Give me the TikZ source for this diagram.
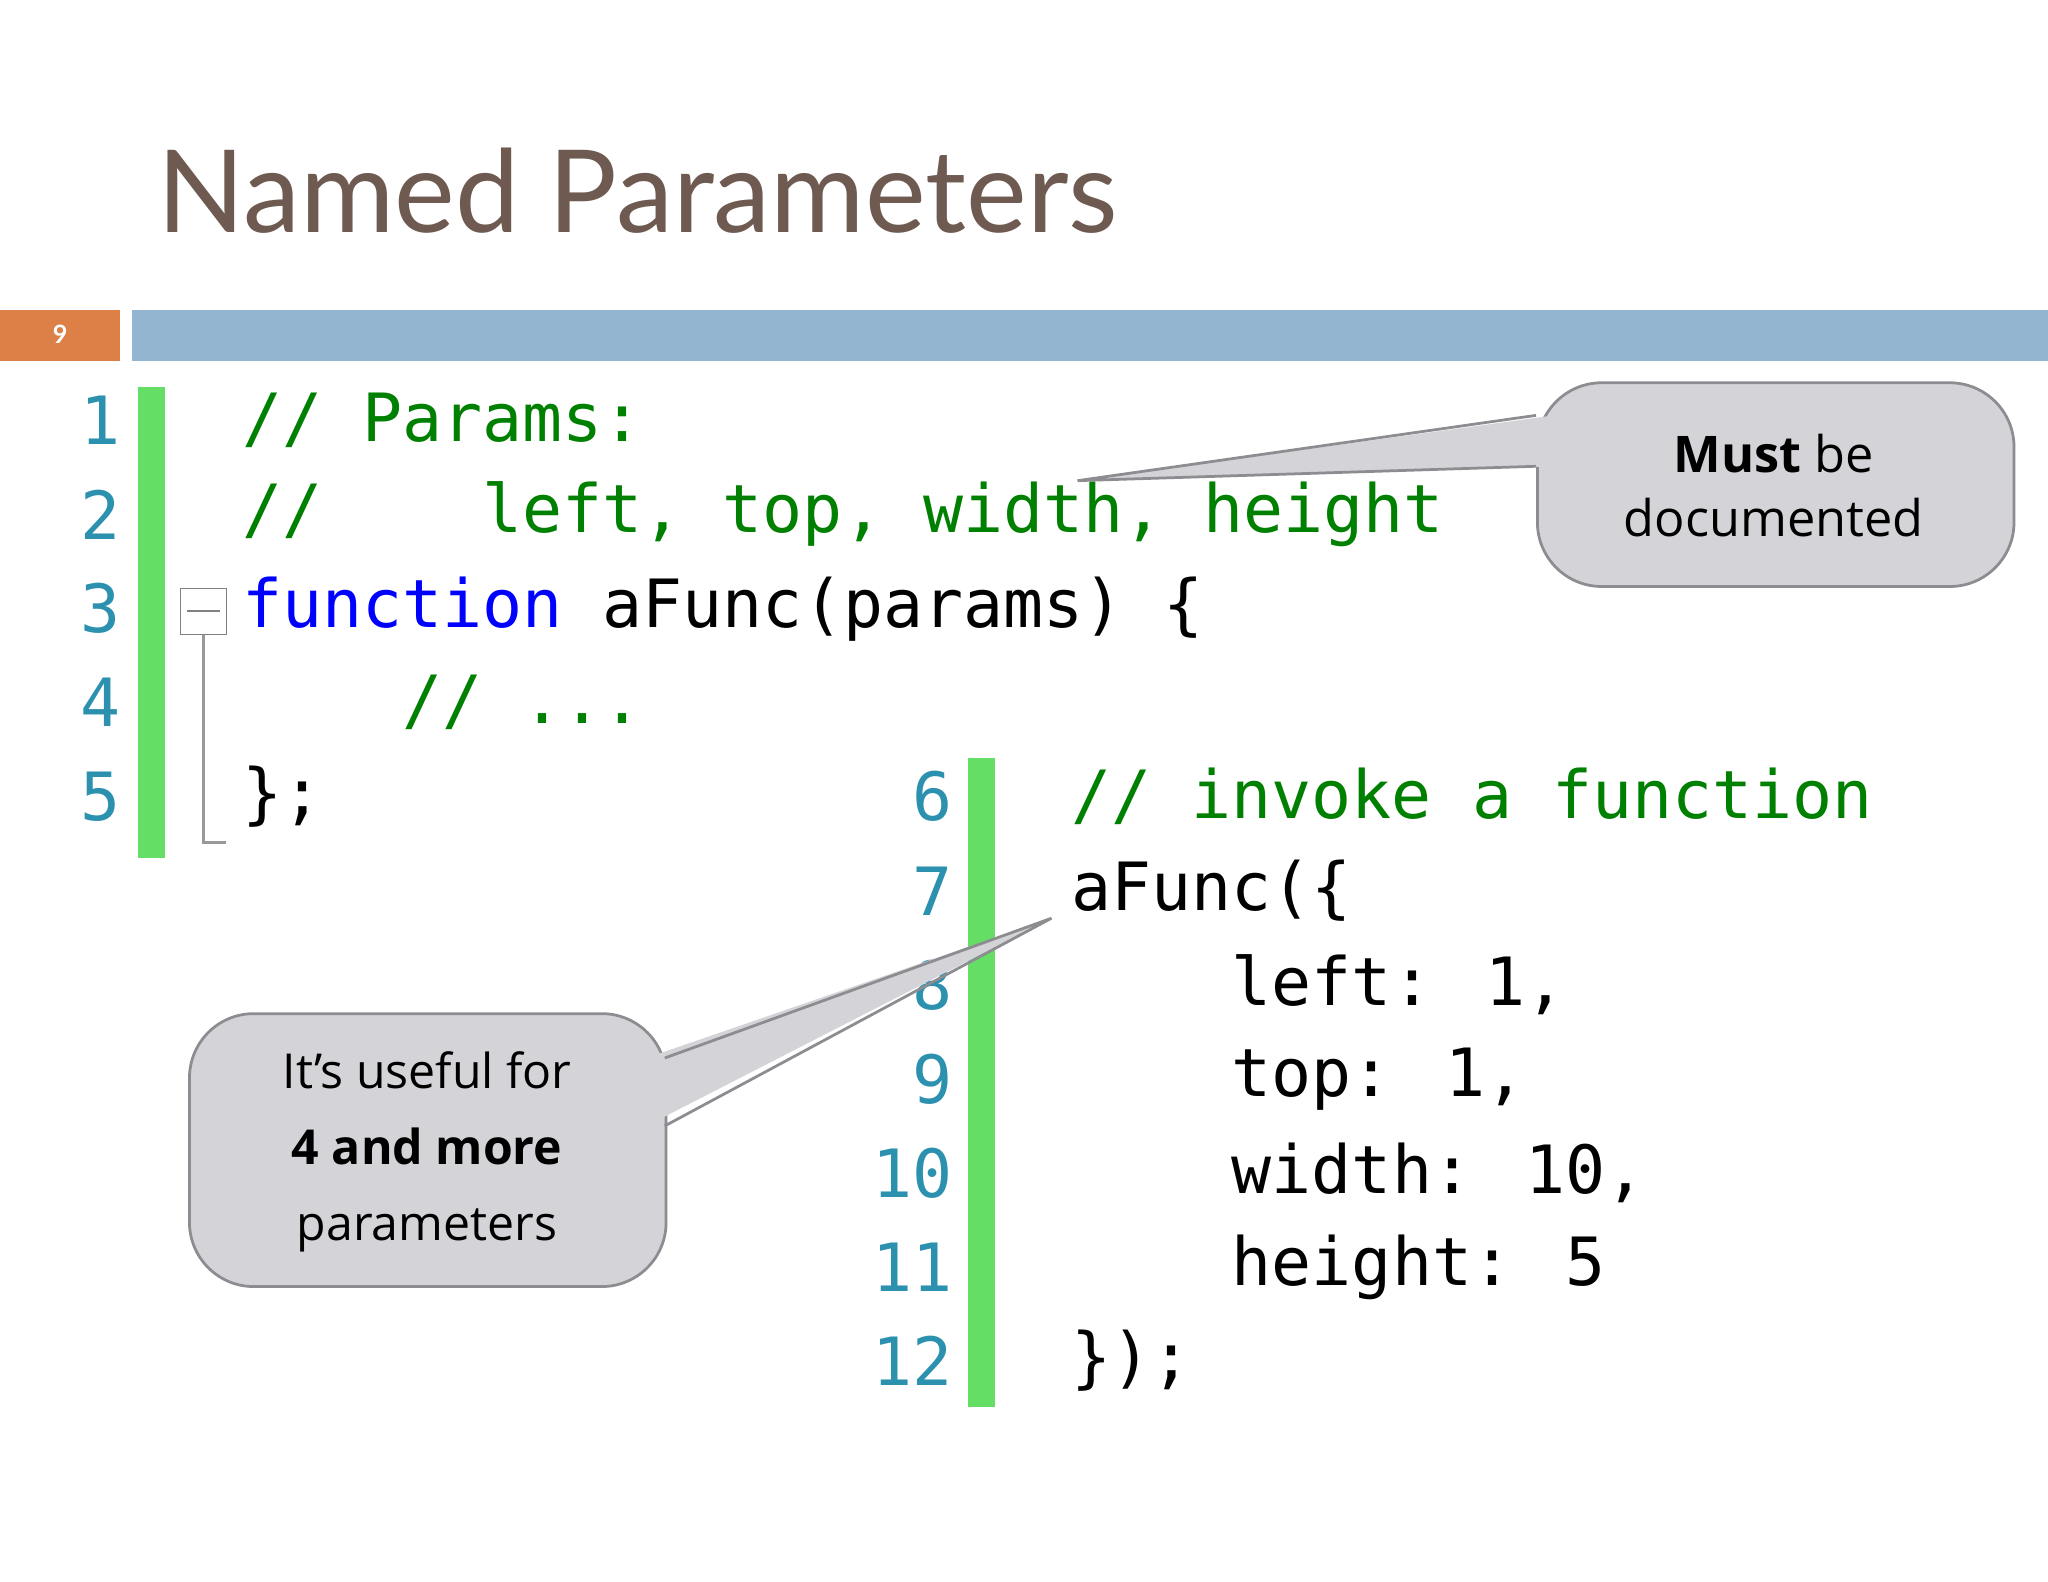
\documentclass[tikz,border=0pt]{standalone}
\usepackage{fontspec}
\setmainfont{Lato}
\newfontfamily\codefont{DejaVu Sans Mono}
\newfontfamily\calfont{Open Sans}
\definecolor{titlec}{RGB}{110,90,80}
\definecolor{barblue}{RGB}{148,181,208}
\definecolor{barorange}{RGB}{221,128,71}
\definecolor{gbar}{RGB}{100,222,100}
\definecolor{lnum}{RGB}{43,145,175}
\definecolor{cgreen}{RGB}{0,128,0}
\definecolor{kblue}{RGB}{0,0,255}
\definecolor{calfill}{RGB}{212,212,216}
\definecolor{caledge}{RGB}{140,140,145}
\tikzset{
 ln/.style={anchor=east,text=lnum,font=\codefont\fontsize{29}{30}\selectfont,inner sep=0},
 code/.style={anchor=west,font=\codefont\fontsize{29}{30}\selectfont,inner sep=0},
 callout/.style={draw=caledge,line width=1.2pt,fill=calfill,rounded corners=28pt,anchor=north west,inner sep=0},
 caltext/.style={font=\calfont\fontsize{22}{24}\selectfont,align=center,inner sep=0}
}
\begin{document}
\begin{tikzpicture}[x=0.02cm,y=-0.02cm]
\useasboundingbox (0,0) rectangle (1568,1211);
\fill[white] (0,0) rectangle (1568,1211);
\node[anchor=west,text=titlec,font=\fontsize{50}{54}\selectfont,inner sep=0] (title) at (120,146) {Named Parameters};
\fill[barorange] (0,237) rectangle (92,276);
\node[text=white,font=\bfseries\fontsize{11}{12}\selectfont] (pg) at (46,256) {9};
\fill[barblue] (101,237) rectangle (1568,276);
% green bars
\fill[gbar] (106,296) rectangle (126,657);
\fill[gbar] (741,580) rectangle (762,1077);
% line numbers block 1
\foreach \n [count=\i from 0] in {1,...,5} \node[ln] (l\n) at (93,322+72*\i) {\n};
\foreach \n [count=\i from 0] in {6,...,12} \node[ln] (l\n) at (730,610+72*\i) {\n};
% code block 1
\node[code,text=cgreen] (c1) at (185,322) {// Params:};
\node[code,text=cgreen] (c2) at (185,394) {//\ \ \ \ left, top, width, height};
\node[code] (c3) at (185,466) {\textcolor{kblue}{function} aFunc(params) \{};
\node[code,text=cgreen] (c4) at (185,538) {\ \ \ \ // ...};
\node[code] (c5) at (185,610) {\};};
% fold marker
\node[draw=gray,fill=white,minimum size=35\pgflinewidth,inner sep=0,minimum width=0.7cm,minimum height=0.7cm] (fold) at (156,468) {};
\draw[gray,line width=0.8pt] (fold.west) ++(5,0) -- ++(25,0);
\draw[gray!80,line width=1.2pt] (fold.south) -- (156,645) -- (173,645);
% code block 2
\node[code,text=cgreen] (d6) at (820,610) {// invoke a function};
\node[code] (d7) at (820,682) {aFunc(\{};
\node[code] (d8) at (820,754) {\ \ \ \ left: 1,};
\node[code] (d9) at (820,826) {\ \ \ \ top: 1,};
\node[code] (d10) at (820,898) {\ \ \ \ width: 10,};
\node[code] (d11) at (820,970) {\ \ \ \ height: 5};
\node[code] (d12) at (820,1042) {\});};
% callout 1
\node[callout,minimum width=7.3cm,minimum height=3.12cm] (co1) at (1176,292) {};
\coordinate (t1) at (825,368);
\fill[calfill] (1190,318) -- (t1) -- (1190,357) -- cycle;
\draw[caledge,line width=1.2pt] (1176,318) -- (t1) -- (1176,357);
\node[caltext] (co1t) at (1358,372) {\textbf{Must} be\\[4pt]documented};
% callout 2
\node[callout,minimum width=7.3cm,minimum height=4.18cm] (co2) at (144,775) {};
\coordinate (t2) at (805,703);
\fill[calfill] (495,810) -- (t2) -- (495,862) -- cycle;
\draw[caledge,line width=1.2pt] (509,810) -- (t2) -- (509,862);
\node[caltext,font=\calfont\fontsize{21}{33}\selectfont] (co2t) at (327,882) {It’s useful for\\\textbf{4 and more}\\parameters};
\end{tikzpicture}
\end{document}
